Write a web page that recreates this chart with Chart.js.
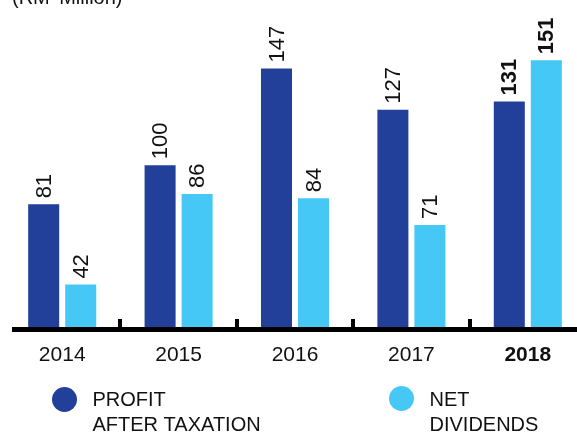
<!DOCTYPE html>
<html>
<head>
<meta charset="utf-8">
<script src="https://cdn.jsdelivr.net/npm/chart.js@4/dist/chart.umd.min.js"></script>
<style>
  html, body { margin: 0; padding: 0; background: #fff; overflow: hidden; }
  #wrap { position: absolute; left: 0; top: 0; width: 590px; height: 437px; }
</style>
</head>
<body>
<div id="wrap"><canvas id="chart" width="590" height="437"></canvas></div>
<script>
const years = ["2014", "2015", "2016", "2017", "2018"];
const profitAfterTax = [81, 100, 147, 127, 131];
const netDividends = [42, 86, 84, 71, 151];
const seriesNames = [["PROFIT", "AFTER TAXATION"], ["NET", "DIVIDENDS"]];
const unitLabel = "(RM' Million)";

const FONT = '"Liberation Sans", Arial, Helvetica, sans-serif';
const darkBlue = "#22409a";
const lightBlue = "#45c8f5";
const ink = "#111111";

// axis line, tick marks, value labels, years, legend
const decorations = {
  id: "decorations",
  afterDatasetsDraw(chart) {
    const ctx = chart.ctx;
    const area = chart.chartArea;
    const x = chart.scales.x;
    const last = years.length - 1;
    ctx.save();

    // unit label, mostly cut off at top
    ctx.fillStyle = ink;
    ctx.font = "20px " + FONT;
    ctx.textAlign = "left";
    ctx.textBaseline = "alphabetic";
    ctx.fillText(unitLabel, 12, 4);

    // thick baseline
    ctx.fillStyle = "#000";
    ctx.fillRect(12, area.bottom, 577 - 12, 5);

    // small ticks between the years
    for (let i = 0; i < last; i++) {
      const tx = (x.getPixelForValue(i) + x.getPixelForValue(i + 1)) / 2;
      ctx.fillRect(Math.round(tx - 2), area.bottom - 8, 4, 8);
    }

    // year labels
    ctx.textAlign = "center";
    years.forEach((y, i) => {
      ctx.font = (i === last ? "bold " : "") + "21px " + FONT;
      ctx.fillStyle = ink;
      ctx.fillText(y, x.getPixelForValue(i), 361);
    });

    // value labels, rotated
    chart.data.datasets.forEach((ds, di) => {
      const meta = chart.getDatasetMeta(di);
      meta.data.forEach((bar, i) => {
        ctx.save();
        ctx.translate(bar.x + 1, bar.y - 6);
        ctx.rotate(-Math.PI / 2);
        ctx.font = (i === last ? "bold " : "") + "22px " + FONT;
        ctx.fillStyle = ink;
        ctx.textAlign = "left";
        ctx.textBaseline = "middle";
        ctx.fillText(String(ds.data[i]), 0, 0);
        ctx.restore();
      });
    });

    // legend
    const legendPos = [
      { cx: 64.5, cy: 399.5, tx: 92.5 },
      { cx: 401.5, cy: 398.5, tx: 429.5 },
    ];
    chart.data.datasets.forEach((ds, di) => {
      const p = legendPos[di];
      ctx.fillStyle = ds.backgroundColor;
      ctx.beginPath();
      ctx.arc(p.cx, p.cy, 12.5, 0, Math.PI * 2);
      ctx.fill();
      ctx.fillStyle = ink;
      ctx.font = "20px " + FONT;
      ctx.textAlign = "left";
      ctx.textBaseline = "alphabetic";
      seriesNames[di].forEach((line, li) => {
        ctx.fillText(line, p.tx, 406 + li * 24.5);
      });
    });

    ctx.restore();
  },
};

new Chart(document.getElementById("chart"), {
  type: "bar",
  data: {
    labels: years,
    datasets: [
      {
        label: seriesNames[0].join(" "),
        data: profitAfterTax,
        backgroundColor: darkBlue,
        categoryPercentage: 0.636,
        barPercentage: 0.838,
      },
      {
        label: seriesNames[1].join(" "),
        data: netDividends,
        backgroundColor: lightBlue,
        categoryPercentage: 0.636,
        barPercentage: 0.838,
      },
    ],
  },
  options: {
    responsive: false,
    animation: false,
    devicePixelRatio: 1,
    layout: { padding: { left: 4, right: 4, top: 20, bottom: 110 } },
    plugins: {
      legend: { display: false },
      tooltip: { enabled: false },
      title: { display: false },
    },
    scales: {
      x: { display: false, offset: true },
      y: { display: false, min: 21.4, max: 170.6 },
    },
  },
  plugins: [decorations],
});
</script>
</body>
</html>
